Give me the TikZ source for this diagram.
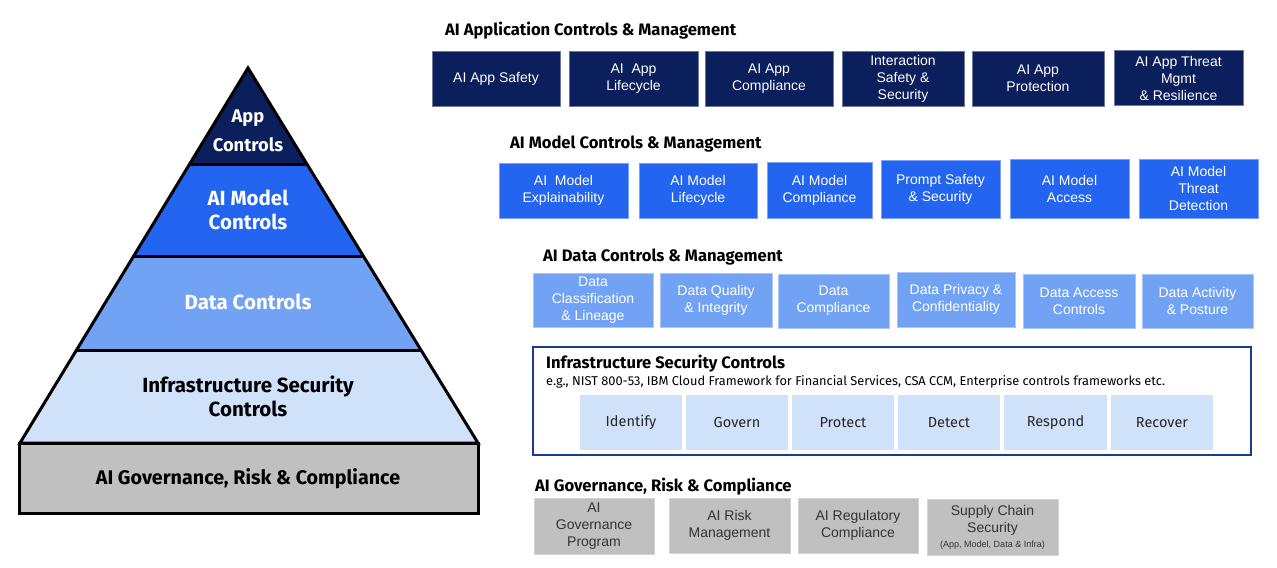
\documentclass[tikz,border=0pt]{standalone}
\usepackage{fontspec}
\setmainfont{Liberation Sans}
\newfontfamily\plex{Fira Sans}
\definecolor{navy}{HTML}{0B1F5C}
\definecolor{mblue}{HTML}{2364F0}
\definecolor{dblue}{HTML}{72A2F4}
\definecolor{iblue}{HTML}{D0E1FA}
\definecolor{ggray}{HTML}{C0C0C0}
\definecolor{frameblue}{HTML}{1A3A9A}
\tikzset{
  x=1bp, y=-1bp,
  base/.style={rectangle, inner sep=1bp, align=center, font=\fontsize{14bp}{17bp}\selectfont},
  appbox/.style={base, fill=navy, draw=navy!60!white, line width=0.6bp, text=white},
  modbox/.style={base, fill=mblue, draw=mblue!60!white, line width=0.6bp, text=white},
  databox/.style={base, fill=dblue, draw=dblue!60!white, line width=0.6bp, text=white},
  infbox/.style={base, fill=iblue, text=black!85, font=\plex\fontsize{14.5bp}{17bp}\selectfont},
  govbox/.style={base, fill=ggray, draw=ggray!70!white, line width=0.6bp, text=black!80},
  heading/.style={anchor=west, inner sep=0, font=\plex\bfseries\fontsize{16.6bp}{19bp}\selectfont},
  pyr/.style={draw=black, line width=3bp, line join=miter},
  pyrtext/.style={align=center, inner sep=0, font=\plex\bfseries\fontsize{20.5bp}{24bp}\selectfont},
}
\begin{document}
\begin{tikzpicture}
\useasboundingbox (0,0) rectangle (1277,568);
\fill[white] (0,0) rectangle (1277,568);

% ---------- pyramid ----------
\fill[navy] (248,68) -- (307.5,165) -- (189,165) -- cycle;
\fill[mblue] (189,165) -- (307.5,165) -- (364,257) -- (133,257) -- cycle;
\fill[dblue] (133,257) -- (364,257) -- (421,350) -- (76.5,350) -- cycle;
\fill[iblue] (76.5,350) -- (421,350) -- (478,443) -- (20,443) -- cycle;
\draw[pyr] (248,68) -- (478,443) -- (20,443) -- cycle;
\draw[pyr] (189,165) -- (307.5,165);
\draw[pyr] (133,257) -- (364,257);
\draw[pyr] (76.5,350) -- (421,350);
\draw[pyr, fill=ggray] (19,443) rectangle (478,513);

\node[pyrtext, text=white, font=\plex\bfseries\fontsize{18.3bp}{29bp}\selectfont] (pApp) at (248,131) {App\\Controls};
\node[pyrtext, text=white] (pModel) at (248,210) {AI Model\\Controls};
\node[pyrtext, text=white] (pData) at (248,302) {Data Controls};
\node[pyrtext, text=black] (pInfra) at (248,396) {Infrastructure Security\\Controls};
\node[pyrtext, text=black, font=\plex\bfseries\fontsize{19.7bp}{22bp}\selectfont] (pGov) at (248,479) {AI Governance, Risk \& Compliance};

% ---------- AI Application ----------
\node[heading] (hApp) at (445,31) {AI Application Controls \& Management};
\node[appbox, minimum width=128bp, minimum height=55bp] (a1) at (496,78.5) {AI App Safety};
\node[appbox, minimum width=129bp, minimum height=55bp] (a2) at (633.5,78.5) {AI\ \ App\\Lifecycle};
\node[appbox, minimum width=128bp, minimum height=55bp] (a3) at (769,78.5) {AI App\\Compliance};
\node[appbox, minimum width=122bp, minimum height=55bp] (a4) at (903,78.5) {Interaction\\Safety \&\\Security};
\node[appbox, minimum width=132bp, minimum height=55bp] (a5) at (1038,78.5) {AI App\\Protection};
\node[appbox, minimum width=129bp, minimum height=55bp] (a6) at (1178.5,78) {AI App Threat\\Mgmt\\\& Resilience};

% ---------- AI Model ----------
\node[heading] (hModel) at (510,144) {AI Model Controls \& Management};
\node[modbox, minimum width=129bp, minimum height=55bp] (m1) at (563.5,190.5) {AI\ \ Model\\Explainability};
\node[modbox, minimum width=118bp, minimum height=55bp] (m2) at (698,190.5) {AI Model\\Lifecycle};
\node[modbox, minimum width=105bp, minimum height=56bp] (m3) at (819.5,190) {AI Model\\Compliance};
\node[modbox, minimum width=119bp, minimum height=58bp] (m4) at (940.5,189) {Prompt Safety\\\& Security};
\node[modbox, minimum width=119bp, minimum height=59bp] (m5) at (1069.5,188.5) {AI Model\\Access};
\node[modbox, minimum width=119bp, minimum height=59bp] (m6) at (1198.5,188.5) {AI Model\\Threat\\Detection};

% ---------- AI Data ----------
\node[heading] (hData) at (543,257) {AI Data Controls \& Management};
\node[databox, minimum width=120bp, minimum height=54bp] (d1) at (593,300) {Data\\Classification\\\& Lineage};
\node[databox, minimum width=112bp, minimum height=54bp] (d2) at (716,300) {Data Quality\\\& Integrity};
\node[databox, minimum width=111bp, minimum height=54bp] (d3) at (833.5,301) {Data\\Compliance};
\node[databox, minimum width=118bp, minimum height=55bp] (d4) at (956,299.5) {Data Privacy \&\\Confidentiality};
\node[databox, minimum width=112bp, minimum height=54bp] (d5) at (1079,301) {Data Access\\Controls};
\node[databox, minimum width=111bp, minimum height=54bp] (d6) at (1197.5,301) {Data Activity\\\& Posture};

% ---------- Infrastructure ----------
\node[draw=frameblue, line width=2bp, minimum width=718bp, minimum height=108bp, inner sep=0] (infra) at (892,401) {};
\node[anchor=west, inner sep=0, font=\plex\bfseries\fontsize{16.6bp}{19bp}\selectfont] (hInfra) at (546,364) {Infrastructure Security Controls};
\node[anchor=west, inner sep=0, font=\plex\fontsize{12.8bp}{15bp}\selectfont] (sInfra) at (546,381.5) {e.g., NIST 800-53, IBM Cloud Framework for Financial Services, CSA CCM, Enterprise controls frameworks etc.};
\node[infbox, minimum width=102bp, minimum height=55bp] (i1) at (631,422.5) {Identify};
\node[infbox, minimum width=102bp, minimum height=55bp] (i2) at (737,422.5) {Govern};
\node[infbox, minimum width=102bp, minimum height=55bp] (i3) at (843,422.5) {Protect};
\node[infbox, minimum width=102bp, minimum height=55bp] (i4) at (949,422.5) {Detect};
\node[infbox, minimum width=103bp, minimum height=55bp] (i5) at (1055.5,422.5) {Respond};
\node[infbox, minimum width=102bp, minimum height=55bp] (i6) at (1162,422.5) {Recover};

% ---------- Governance ----------
\node[heading] (hGov) at (535,487) {AI Governance, Risk \& Compliance};
\node[govbox, minimum width=120bp, minimum height=56bp] (g1) at (594,526) {AI\\Governance\\Program};
\node[govbox, minimum width=121bp, minimum height=55bp] (g2) at (729.5,525.5) {AI Risk\\Management};
\node[govbox, minimum width=120bp, minimum height=55bp] (g3) at (858,525.5) {AI Regulatory\\Compliance};
\node[govbox, minimum width=131bp, minimum height=56bp] (g4) at (992.5,527) {Supply Chain\\Security\\[-2bp]{\fontsize{9bp}{10bp}\selectfont (App, Model, Data \& Infra)}};
\end{tikzpicture}
\end{document}
